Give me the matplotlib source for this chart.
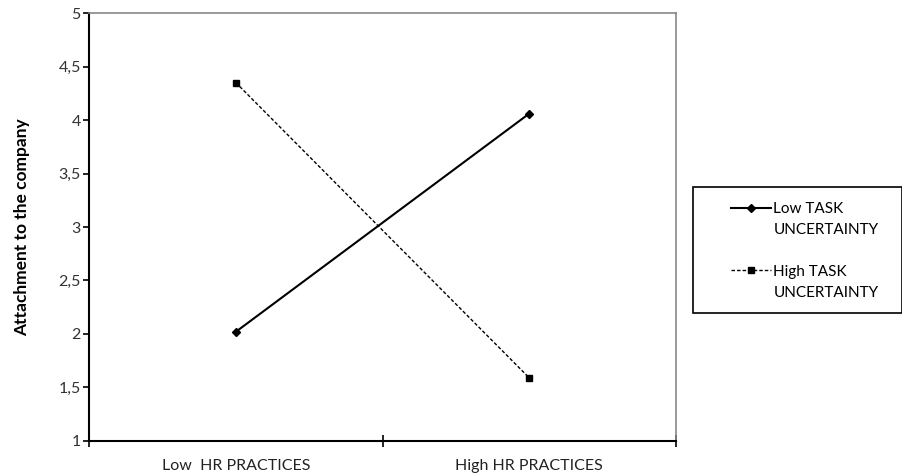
import numpy as np
import matplotlib.pyplot as plt
from matplotlib.lines import Line2D
from matplotlib.patches import Rectangle

plt.rcParams['font.family'] = ['Lato', 'DejaVu Sans']

categories = ['Low  HR PRACTICES', 'High HR PRACTICES']
low_task = [2.02, 4.06]
high_task = [4.35, 1.59]
y_ticks = [1, 1.5, 2, 2.5, 3, 3.5, 4, 4.5, 5]
y_tick_labels = ['1', '1,5', '2', '2,5', '3', '3,5', '4', '4,5', '5']

fig = plt.figure(figsize=(9.03, 4.75), dpi=100)
ax = fig.add_axes([0.0986, 0.0716, 0.65, 0.901])

x = np.arange(len(categories)) + 0.5
l1, = ax.plot(x, low_task, color='black', linewidth=1.5, marker='D', markersize=4)
l2, = ax.plot(x, high_task, color='black', linewidth=1.0, linestyle=(0, (2.5, 1.5)),
              marker='s', markersize=5)

ax.set_xlim(0, 2)
ax.set_ylim(1, 5)
ax.set_yticks(y_ticks)
ax.set_yticklabels(y_tick_labels, fontsize=11.5, color='#333333')
ax.set_xticks([0, 1, 2])
ax.set_xticklabels([])
ax.set_xticks(x, minor=True)
ax.set_xticklabels(categories, minor=True, fontsize=11.5, color='#222222')
ax.tick_params(axis='x', which='minor', length=0, pad=13)
ax.tick_params(axis='x', which='major', direction='inout', length=8, width=1.2)
ax.tick_params(axis='y', direction='out', length=4, width=1.2, pad=2)

ax.spines['left'].set_linewidth(1.5)
ax.spines['bottom'].set_linewidth(1.5)
ax.spines['top'].set_color('#888888')
ax.spines['right'].set_color('#888888')
ax.spines['top'].set_linewidth(1.2)
ax.spines['right'].set_linewidth(1.2)

ax.set_ylabel('Attachment to the company', fontsize=12.5, fontweight='bold', labelpad=20)

# legend: box drawn separately so the handle sits on the first text line
fig.add_artist(Rectangle((0.7674, 0.341), 0.2314, 0.265, transform=fig.transFigure,
                         fill=False, edgecolor='black', linewidth=1.2))
blank = Line2D([], [], linestyle='none')
handles = [l1, blank, blank, l2, blank]
labels = ['Low TASK', 'UNCERTAINTY', ' ', 'High TASK', 'UNCERTAINTY']
fig.legend(handles, labels, loc='upper left', bbox_to_anchor=(0.81, 0.5745),
           fontsize=11, frameon=False, labelspacing=0.45, handlelength=2.6,
           handletextpad=0.15, borderpad=0, borderaxespad=0)

fig.savefig('out.png', dpi=100)
